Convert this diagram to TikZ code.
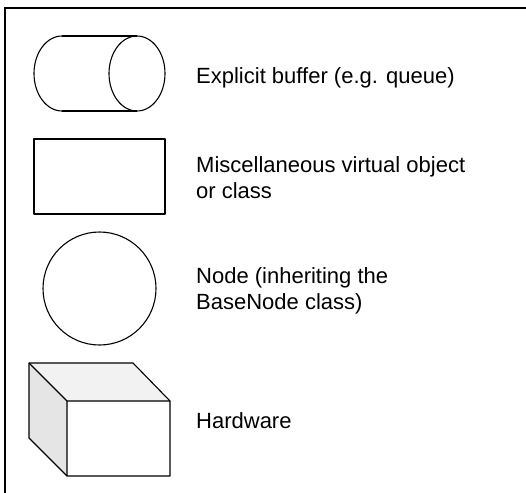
\documentclass[tikz,border=0pt]{standalone}
\usepackage{fontspec}
\setmainfont{Liberation Sans}
\begin{document}
\begin{tikzpicture}[x=1pt,y=-1pt,
  shape line/.style={draw=black,line width=1.1pt,line join=round},
  legend text/.style={anchor=base west,align=left,font=\fontsize{22}{26.5}\selectfont,inner sep=0pt}]
\useasboundingbox (0,0) rectangle (526,492);
% outer frame, open at right and bottom
\draw[line width=1.2pt] (5,500) -- (5,8) -- (530,8);
% explicit buffer: horizontal cylinder
\draw[shape line] (62,36) -- (137,36) (62,111) -- (137,111);
\draw[shape line] (62,36) arc[start angle=270,end angle=90,x radius=28,y radius=37.5];
\draw[shape line] (137,73.5) ellipse[x radius=28,y radius=37.5];
\coordinate (buf) at (165,73.5);
% miscellaneous object: rectangle
\node[shape line,minimum width=131,minimum height=75,inner sep=0pt] (misc) at (99.5,176.5) {};
% node: circle
\node[shape line,circle,minimum size=113,inner sep=0pt] (nd) at (99.5,288.5) {};
% hardware: box in oblique view
\fill[gray!20] (29,363) -- (67,401) -- (67,476) -- (29,438) -- cycle;
\fill[gray!10] (29,363) -- (133,363) -- (170,401) -- (67,401) -- cycle;
\draw[shape line] (29,363) -- (133,363) -- (170,401) -- (170,476) -- (67,476) -- (29,438) -- cycle;
\draw[shape line] (29,363) -- (67,401) -- (170,401) (67,401) -- (67,476);
\coordinate (hw) at (170,423);
% labels (base anchor sits on the last line of a two-line label)
\node[legend text] (tbuf) at (196,83.3) {Explicit buffer (e.g. queue)};
\node[legend text] (tmisc) at (196,198.5) {Miscellaneous virtual object\\or class};
\node[legend text] (tnd) at (196,309.5) {Node (inheriting the\\BaseNode class)};
\node[legend text] (thw) at (196,428) {Hardware};
\end{tikzpicture}
\end{document}
